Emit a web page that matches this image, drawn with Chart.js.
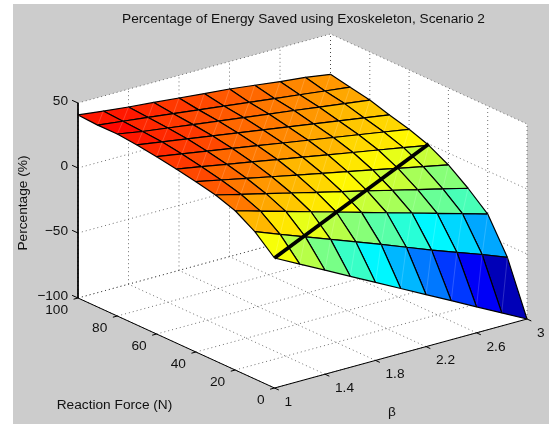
<!DOCTYPE html>
<html><head><meta charset="utf-8">
<style>html,body{margin:0;padding:0;background:#fff}canvas{position:absolute;left:13px;top:4px;background:#ccc}</style>
<script src="https://cdn.jsdelivr.net/npm/chart.js@4"></script>
</head><body><canvas id="c" width="536" height="420"></canvas>
<script>
const chartTitle = "Percentage of Energy Saved using Exoskeleton, Scenario 2";
const betaGrid = [1,1.2,1.4,1.6,1.8,2,2.2,2.4,2.6,2.8,3];
const forceGrid = [0,10,20,30,40,50,60,70,80,90,100];
const savedF0   = [0,-10,-20,-30,-40,-50,-60,-70,-80,-90,-100];
const savedF10  = [13.3,6,-1.3,-8.5,-15.8,-23,-30.5,-38,-45,-52,-59.5];
const savedF20  = [22.5,16.9,11.4,5.8,0.3,-5.3,-10.9,-16.4,-22,-27.5,-33.1];
const savedF30  = [27.7,22.9,18.1,13.3,8.5,3.8,-1,-5.8,-10.6,-15.4,-20.2];
const savedF40  = [31,27,23,18.9,14.9,10.9,6.9,2.9,-1.2,-5.2,-9.2];
const savedF50  = [33.8,30.3,26.8,23.4,19.9,16.4,12.9,9.4,6,2.5,-1];
const savedF60  = [36.4,33.2,30,26.8,23.6,20.4,17.2,14,10.8,7.6,4.4];
const savedF70  = [38.5,35.5,32.5,29.5,26.5,23.5,20.5,17.5,14.5,11.5,8.5];
const savedF80  = [40,36.6,34,31.3,28.7,26.1,23.5,20.9,18.2,15.6,13];
const savedF90  = [39.9,37.6,35.2,32.8,30.4,28,25.6,23.2,20.8,18.4,16];
const savedF100 = [40.8,38.5,36.3,34.5,32.6,30.7,28.9,26.5,24,22,19];
const savedRows = [savedF0,savedF10,savedF20,savedF30,savedF40,savedF50,savedF60,savedF70,savedF80,savedF90,savedF100];
const zeroContourBeta = [1,3];
const zeroContourForce = [0,50];
const betaTicks = [1,1.4,1.8,2.2,2.6,3];
const betaTickLabels = ["1","1.4","1.8","2.2","2.6","3"];
const forceTicks = [0,20,40,60,80,100];
const forceTickLabels = ["0","20","40","60","80","100"];
const zTicks = [-100,-50,0,50];
const zTickLabels = ["\u2212100","\u221250","0","50"];

// orthographic view of the box
const O = {x:274.5, y:388};
const perBeta = {x:252.5/2, y:-69/2};
const perForce = {x:-196.5/100, y:-90/100};
const perZ = -1.3;
function P(b,f,z){
  return {x:O.x+(b-1)*perBeta.x+f*perForce.x, y:O.y+(b-1)*perBeta.y+f*perForce.y+(z+100)*perZ};
}
function jet(v){
  const k=Math.min(63,Math.max(0,Math.floor((v+100)/160*64)));
  const t=Math.max(0,k-0.5)/64;
  const c=s=>Math.round(255*Math.max(0,Math.min(1,1.5-Math.abs(4*t-s))));
  return `rgb(${c(3)},${c(2)},${c(1)})`;
}
const layers=[]; // painted in this order
const line=(pts,o)=>layers.push(Object.assign({data:pts,showLine:true,pointRadius:0,tension:0,fill:false,clip:false,borderWidth:1,borderColor:'#000'},o));
// walls
line([P(1,100,50),P(3,100,50),P(3,0,50),P(3,0,-100),P(1,0,-100),P(1,100,-100)],{fill:'shape',backgroundColor:'#fff',borderWidth:0,borderColor:'rgba(0,0,0,0)'});
const dot={borderWidth:0.7,borderColor:'#333',borderDash:[1,3]};
betaTicks.forEach(b=>{
  line([P(b,0,-100),P(b,100,-100)],dot);
  line([P(b,100,-100),P(b,100,50)],dot);
  });
forceTicks.forEach(f=>{
  line([P(1,f,-100),P(3,f,-100)],dot);
  line([P(3,f,-100),P(3,f,50)],dot);
});
zTicks.forEach(z=>{
  line([P(1,100,z),P(3,100,z),P(3,0,z)],dot);
});
// axes
line([P(1,100,50),P(1,100,-100),P(1,0,-100),P(3,0,-100)],{});
betaTicks.forEach(b=>line([P(b,0,-100),P(b,-2.2,-100)],{}));
forceTicks.forEach(f=>line([P(1,f,-100),P(1-0.035,f,-100)],{}));
zTicks.forEach(z=>line([P(1,100,z),P(1,103,z)],{}));
// surface, back to front
for(let j=forceGrid.length-2;j>=0;j--){
  for(let i=betaGrid.length-2;i>=0;i--){
    const v=(a,b)=>P(betaGrid[a],forceGrid[b],savedRows[b][a]);
    line([v(i,j),v(i+1,j),v(i+1,j+1),v(i,j+1),v(i,j)],{fill:'shape',backgroundColor:jet(savedRows[j][i]),borderWidth:1.2,borderColor:'#000',borderJoinStyle:'round'});
    line([v(i,j),v(i+1,j+1)],{borderWidth:0.5,borderColor:'rgba(255,255,255,0.35)'});
  }
}
// zero contour
line(zeroContourBeta.map((b,k)=>P(b,zeroContourForce[k],0)),{borderWidth:3.8,borderColor:'#000'});

const labelFont='13.7px "Liberation Sans", Arial, sans-serif';
const textPlugin={id:'boxText',afterDraw(ch){
  const c=ch.ctx,X=ch.scales.x,Y=ch.scales.y;
  const put=(t,x,y,al,rot)=>{c.save();c.translate(X.getPixelForValue(x),Y.getPixelForValue(y));if(rot)c.rotate(rot);c.textAlign=al;c.textBaseline='middle';c.fillStyle='#111';c.font=labelFont;c.fillText(t,0,0);c.restore();};
  zTicks.forEach((z,k)=>{const p=P(1,100,z);put(zTickLabels[k],p.x-10,p.y-2,'right');});
  forceTicks.forEach((f,k)=>{const p=P(1,f,-100);put(forceTickLabels[k],p.x-10,p.y+12,'right');});
  betaTicks.forEach((b,k)=>{const p=P(b,0,-100);put(betaTickLabels[k],p.x+10,p.y+14,'left');});
  put("Reaction Force (N)",114.5,405,'center');
  put("\u03b2",392,412,'center');
  put("Percentage (%)",23,203,'center',-Math.PI/2);
}};
new Chart(document.getElementById('c'),{
  type:'scatter',
  data:{datasets:layers.slice().reverse()},
  plugins:[textPlugin],
  options:{
    responsive:false,animation:false,
    layout:{padding:{left:45,right:0,top:0,bottom:0}},
    scales:{
      x:{type:'linear',display:false,min:58,max:549},
      y:{type:'linear',display:false,reverse:true,min:30,max:424}
    },
    plugins:{
      legend:{display:false},tooltip:{enabled:false},
      title:{display:true,text:chartTitle,color:'#111',font:{family:'"Liberation Sans", Arial, sans-serif',size:13.7,weight:'normal',lineHeight:1},padding:{top:8,bottom:4.3}}
    }
  }
});
</script></body></html>
